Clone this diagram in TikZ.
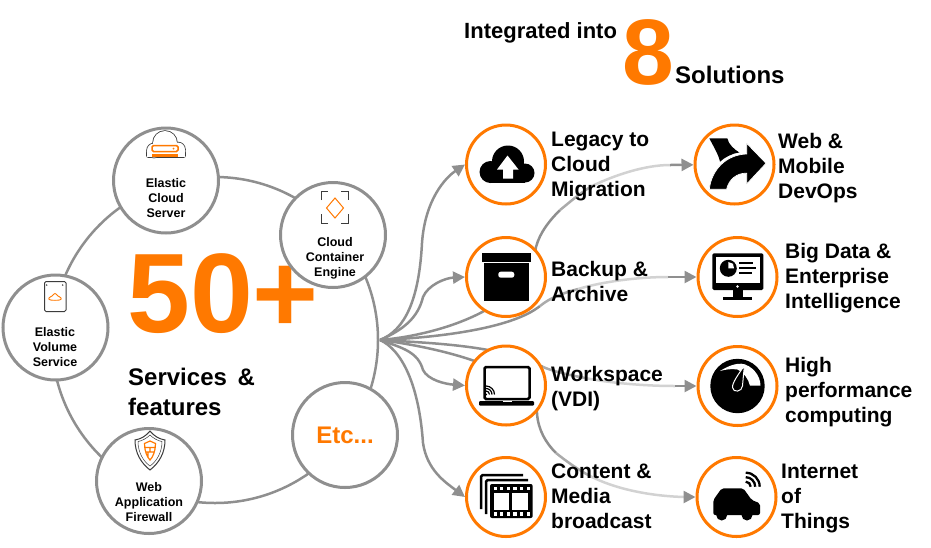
\documentclass[tikz,border=0pt]{standalone}
\usepackage{fontspec}
\setmainfont{Liberation Sans}
\usetikzlibrary{arrows.meta,backgrounds}
\definecolor{brand}{HTML}{FF7900}
\definecolor{ringgrey}{HTML}{8F8F8F}
\definecolor{midgrey}{HTML}{ABABAB}
\definecolor{palegrey}{HTML}{D2D2D2}
\definecolor{icongrey}{HTML}{3C3C3C}
\tikzset{
 svc/.style={circle,draw=ringgrey,line width=3pt,fill=white,minimum size=105pt,inner sep=0pt},
 sol/.style={circle,draw=brand,line width=3pt,fill=white,minimum size=79pt,inner sep=0pt},
 svctext/.style={font=\fontsize{12.5}{15}\selectfont\bfseries,align=center,inner sep=0pt},
 soltext/.style={font=\fontsize{21}{25}\selectfont\bfseries,align=left,anchor=west,inner sep=0pt},
 feed/.style={draw=ringgrey,line width=2.5pt},
 tip/.style={-{Triangle[length=12pt,width=12pt]}},
}
\begin{document}
\begin{tikzpicture}[x=1pt,y=-1pt]
 \useasboundingbox (0,0) rectangle (931,547);

 \node at (166,180.5) [svc] (ecs) {};
 \node at (333,235) [svc] (cce) {};
 \node at (55.5,327.5) [svc] (evs) {};
 \node at (149,481) [svc] (waf) {};
 \node at (345,435) [svc,text=brand,font=\fontsize{24}{28}\selectfont\bfseries] (etc) {Etc...};

 \node at (506,164.5) [sol] (legacy) {};
 \node at (506,277) [sol] (backup) {};
 \node at (506,385.5) [sol] (workspace) {};
 \node at (506,497) [sol] (content) {};
 \node at (734.5,164.5) [sol] (web) {};
 \node at (737.5,277) [sol] (bigdata) {};
 \node at (737.5,386) [sol] (hpc) {};
 \node at (736.5,497) [sol] (iot) {};

 \coordinate (hub) at (380,340);

 % ring, count and feeds stay under the circles
 \begin{scope}[on background layer]
  \node at (215,340) [circle,draw=ringgrey,line width=2.5pt,minimum size=326pt,inner sep=0pt] (ring) {};
  \node at (127,332) [anchor=base west,inner sep=0pt,text=brand,font=\fontsize{113}{113}\selectfont\bfseries] (count) {50+};

  \draw[feed,tip] (hub) .. controls (405,330) and (419,300) .. (422,243) .. controls (425,200) and (445,178) .. (legacy.west);
  \draw[feed,tip] (hub) .. controls (403,330) and (418,318) .. (423,297) .. controls (428,285) and (445,278) .. (backup.west);
  \draw[feed,tip] (hub) .. controls (403,348) and (418,352) .. (423,370) .. controls (428,380) and (445,384) .. (workspace.west);
  \draw[feed,tip] (hub) .. controls (402,350) and (419,385) .. (423,443) .. controls (427,470) and (445,482) .. (content.west);

  % web
  \coordinate (webA) at (560,210); \coordinate (webB) at (592,186); \coordinate (webC) at (670,165);
  \draw[feed] (hub) .. controls (430,336) and (527,312) .. (536,247) .. controls (540,232) and (550,220) .. (webA);
  \draw[feed,draw=midgrey] (webA) .. controls (570,202) and (580,193) .. (webB);
  \draw[feed,draw=palegrey] (webB) .. controls (615,175) and (645,165) .. (webC);
  \draw[feed,tip] (webC) -- (web);

  % big data
  \coordinate (bigA) at (540,306); \coordinate (bigB) at (578,289); \coordinate (bigC) at (668,277);
  \draw[feed] (hub) .. controls (430,338) and (510,330) .. (bigA);
  \draw[feed,draw=midgrey] (bigA) .. controls (550,298) and (560,294) .. (bigB);
  \draw[feed,draw=palegrey] (bigB) .. controls (605,281) and (640,277) .. (bigC);
  \draw[feed,tip] (bigC) -- (bigdata);

  % hpc
  \coordinate (hpcA) at (543,367); \coordinate (hpcB) at (585,378); \coordinate (hpcC) at (675,386);
  \draw[feed] (hub) .. controls (430,343) and (500,345) .. (hpcA);
  \draw[feed,draw=midgrey] (hpcA) .. controls (555,372) and (570,375) .. (hpcB);
  \draw[feed,draw=palegrey] (hpcB) .. controls (610,383) and (645,386) .. (hpcC);
  \draw[feed,tip] (hpcC) -- (hpc);

  % iot
  \coordinate (iotA) at (556,453); \coordinate (iotB) at (590,476); \coordinate (iotC) at (684,497);
  \draw[feed] (hub) .. controls (420,345) and (535,365) .. (537,413) .. controls (538,430) and (546,443) .. (iotA);
  \draw[feed,draw=midgrey] (iotA) .. controls (566,461) and (577,469) .. (iotB);
  \draw[feed,draw=palegrey] (iotB) .. controls (615,489) and (650,496) .. (iotC);
  \draw[feed,tip] (iotC) -- (iot);
 \end{scope}

 % service icons
 \begin{scope}[shift={(166,180.5)}]
  \fill[icongrey] (-1,-37.5) circle (12.8);
  \fill[icongrey] (-12,-30) circle (7.8);
  \fill[icongrey] (12,-31) circle (7.8);
  \fill[icongrey,rounded corners=2pt] (-19.8,-30) rectangle (19.8,-22.7);
  \fill[white] (-1,-37.5) circle (12);
  \fill[white] (-12,-30) circle (7);
  \fill[white] (12,-31) circle (7);
  \fill[white] (-19,-31) rectangle (19,-23.5);
  \draw[brand,line width=1.5pt,rounded corners=1.5pt] (-14,-35) rectangle (12,-29);
  \fill[brand] (7.5,-32) circle (1);
  \fill[brand] (-14,-27) rectangle (12,-24);
 \end{scope}
 \begin{scope}[shift={(333,235)}]
  \draw[icongrey,line width=1pt] (-12,-35) -- (-12,-44) -- (-5,-44) (8,-44) -- (15,-44) -- (15,-35)
   (15,-21) -- (15,-12) -- (8,-12) (-5,-12) -- (-12,-12) -- (-12,-21);
  \draw[brand,line width=1pt] (2,-37) -- (10.5,-27) -- (2,-17) -- (-6.5,-27) -- cycle;
 \end{scope}
 \begin{scope}[shift={(55.5,327.5)}]
  \draw[icongrey,line width=1pt,rounded corners=1.5pt] (-11,-46) rectangle (10.5,-16);
  \fill[icongrey] (-8.8,-42.5) circle (.8);
  \fill[icongrey] (7.2,-42.5) circle (.8);
  \draw[brand,line width=.9pt] plot[smooth cycle,tension=.7] coordinates {(-5,-27.5) (-6.5,-29.5) (-3.5,-31.5) (-.5,-34) (2.5,-31.5) (5.5,-29.5) (4,-27.5)};
 \end{scope}
 \begin{scope}[shift={(149,481)}]
  \draw[icongrey,line width=1pt] (1,-50) .. controls (5,-45) and (10,-42) .. (16,-41) .. controls (16,-28) and (10,-18) .. (1,-11)
   .. controls (-8,-18) and (-14,-28) .. (-14,-41) .. controls (-8,-42) and (-3,-45) .. cycle;
  \draw[icongrey,line width=.5pt] (1,-46) .. controls (4,-43) and (9,-40) .. (13,-39.5) .. controls (13,-29) and (8,-20) .. (1,-15)
   .. controls (-6,-20) and (-11,-29) .. (-11,-39.5) .. controls (-7,-40) and (-2,-43) .. cycle;
  \draw[brand,line width=1.2pt] (1,-40) -- (6.5,-37.5) .. controls (6.5,-30) and (4,-24) .. (1,-21) .. controls (-2,-24) and (-4.5,-30) .. (-4.5,-37.5) -- cycle
   (-4.5,-33.5) -- (6.5,-33.5) (-3.5,-29) -- (5.5,-29) (1,-33.5) -- (1,-29) (-1,-29) -- (-1,-24);
 \end{scope}

 % solution icons
 \begin{scope}[shift={(506,164.5)}]
  \fill (-15.5,7.5) circle (11);
  \fill (2,-3) circle (16);
  \fill (19,8.5) circle (9.5);
  \fill (-15,8) rectangle (19,18);
  \fill[white] (1.5,-9) -- (12.5,5) -- (7,5) -- (7,14) -- (-3,14) -- (-3,5) -- (-9,5) -- cycle;
 \end{scope}
 \begin{scope}[shift={(506,277)}]
  \fill (-24,-24.3) rectangle (25,-15.3);
  \fill (-22.3,-13.7) rectangle (23.3,24);
  \fill[white,rounded corners=2.5pt] (-7.7,-5.3) rectangle (8.3,.7);
 \end{scope}
 \begin{scope}[shift={(506,385.5)}]
  \draw[line width=2.5pt,rounded corners=1.5pt] (-21.5,-18.5) rectangle (23.5,13.5);
  \fill[rounded corners=1pt] (-27,15.5) rectangle (28,20);
  \fill[white] (-3.5,15.5) rectangle (5.5,16.8);
  \foreach \r in {3.5,6,8.5} \draw[line width=1.2pt] (-20,9) ++(0,-\r) arc (90:0:\r pt);
  \fill (-20,9) circle (1.2);
 \end{scope}
 \begin{scope}[shift={(506,497)}]
  \draw[line width=2.5pt,rounded corners=1.5pt] (-25,12) -- (-25,-22) -- (17,-22);
  \draw[line width=2.5pt,rounded corners=1.5pt] (-20,17) -- (-20,-17) -- (22,-17);
  \fill[rounded corners=2pt] (-16,-13) rectangle (26.7,21);
  \fill[white] (-12,-3.7) rectangle (3,13);
  \fill[white] (5.7,-3.7) rectangle (22.3,13);
  \foreach \i in {0,1,2,3,4,5} {
   \fill[white] (-12.5+\i*6.6,-10.3) rectangle ++(3.2,3.2);
   \fill[white] (-12.5+\i*6.6,15.4) rectangle ++(3.2,3.2);
  }
 \end{scope}
 \begin{scope}[shift={(734.5,164.5)}]
  \fill (-25.2,-26.2) -- (-7.2,-26.2) .. controls (-6,-20) and (0,-15) .. (4.8,-12) .. controls (-3,-11) and (-10,-7) .. (-14.5,-2.8) .. controls (-16,-10) and (-21,-18) .. cycle;
  \filldraw[draw=white,fill=black,line width=.7pt] (31.5,-1.2) -- (12.2,-21.2) -- (12.2,-10.5) .. controls (-8,-10) and (-23,5) .. (-25.2,24.8) -- (-7.9,24.8) .. controls (-6,15) and (3,8) .. (12.2,8.8) -- (12.2,19.5) -- cycle;
 \end{scope}
 \begin{scope}[shift={(737.5,277)}]
  \fill[rounded corners=1.5pt] (-25.2,-23.7) rectangle (25.8,13);
  \fill[white] (-21.5,-20.3) rectangle (22.5,5.7);
  \fill[white] (0,9.5) circle (1.3);
  \fill (-4.8,13) rectangle (5.2,19.7);
  \fill (-14.2,19.7) rectangle (14.2,23);
  \fill (-9.2,-8.7) circle (8.5);
  \fill[white] (-9.2,-8.7) -- (-9.2,-15) -- (-4.5,-13.2) -- (-3.5,-8.7) -- cycle;
  \draw[line width=2pt] (1.8,-13.7) -- (15,-13.7) (1.8,-8.7) -- (18.5,-8.7) (1.8,-3.7) -- (14.2,-3.7);
 \end{scope}
 \begin{scope}[shift={(737.5,386)}]
  \fill (0,0) circle (27.2);
  \fill[white] (-17.5,-15) .. controls (-8,-21) and (-1,-22.5) .. (4,-22.3) .. controls (14,-21) and (23,-11) .. (23,-.3) -- (12.5,-.3) .. controls (11,-7) and (6,-14) .. (0,-16.5) .. controls (-6,-17.5) and (-12,-16.5) .. cycle;
  \filldraw[draw=white,fill=black,line width=1pt] (7,-20.5) .. controls (6,-12) and (5.5,-6) .. (5,0) .. controls (4.5,6) and (-4.5,7) .. (-5,1.5) .. controls (-5.5,-3) and (1,-12) .. cycle;
 \end{scope}
 \begin{scope}[shift={(736.5,497)}]
  \fill[rounded corners=2pt] (-23.2,18) -- (-23.2,3) -- (-14.8,-8.7) -- (6.8,-8.7) -- (15.2,3) -- (23.5,6.3) -- (23.5,18) -- cycle;
  \fill (-14.8,18) circle (5.5);
  \fill (10.5,18) circle (5.5);
  \foreach \r in {5,9.5,14} \draw[line width=2.3pt] (9.2,-10.3) ++(0,-\r) arc (90:0:\r pt);
 \end{scope}

 % text
 \node at (166,198) [svctext] (ecstext) {Elastic\\Cloud\\Server};
 \node at (335,258) [svctext] (ccetext) {Cloud\\Container\\Engine};
 \node at (55,347) [svctext] (evstext) {Elastic\\Volume\\Service};
 \node at (149,502) [svctext] (waftext) {Web\\Application\\Firewall};

 \node at (128,392) [anchor=west,inner sep=0pt,align=left,font=\fontsize{24}{30}\selectfont\bfseries] (servtext) {Services\, \&\\features};

 \node at (464,33) [inner sep=0pt,anchor=west,font=\fontsize{22}{26}\selectfont\bfseries] (intotext) {Integrated into};
 \node at (622,84) [anchor=base west,inner sep=0pt,text=brand,font=\fontsize{93}{93}\selectfont\bfseries] (eight) {8};
 \node at (675,75) [inner sep=0pt,anchor=west,font=\fontsize{24}{28}\selectfont\bfseries] (soltitle) {Solutions};

 \node at (551,166) [soltext] (legacytext) {Legacy to\\Cloud\\Migration};
 \node at (551,281.5) [soltext] (backuptext) {Backup \&\\Archive};
 \node at (551,388.5) [soltext] (worktext) {Workspace\\(VDI)};
 \node at (551,496) [soltext] (conttext) {Content \&\\Media\\broadcast};
 \node at (778,168) [soltext] (webtext) {Web \&\\Mobile\\DevOps};
 \node at (785,278) [soltext] (bigtext) {Big Data \&\\Enterprise\\Intelligence};
 \node at (785,392) [soltext] (hpctext) {High\\performance\\computing};
 \node at (781,498) [soltext] (iottext) {Internet\\of\\Things};
\end{tikzpicture}
\end{document}
